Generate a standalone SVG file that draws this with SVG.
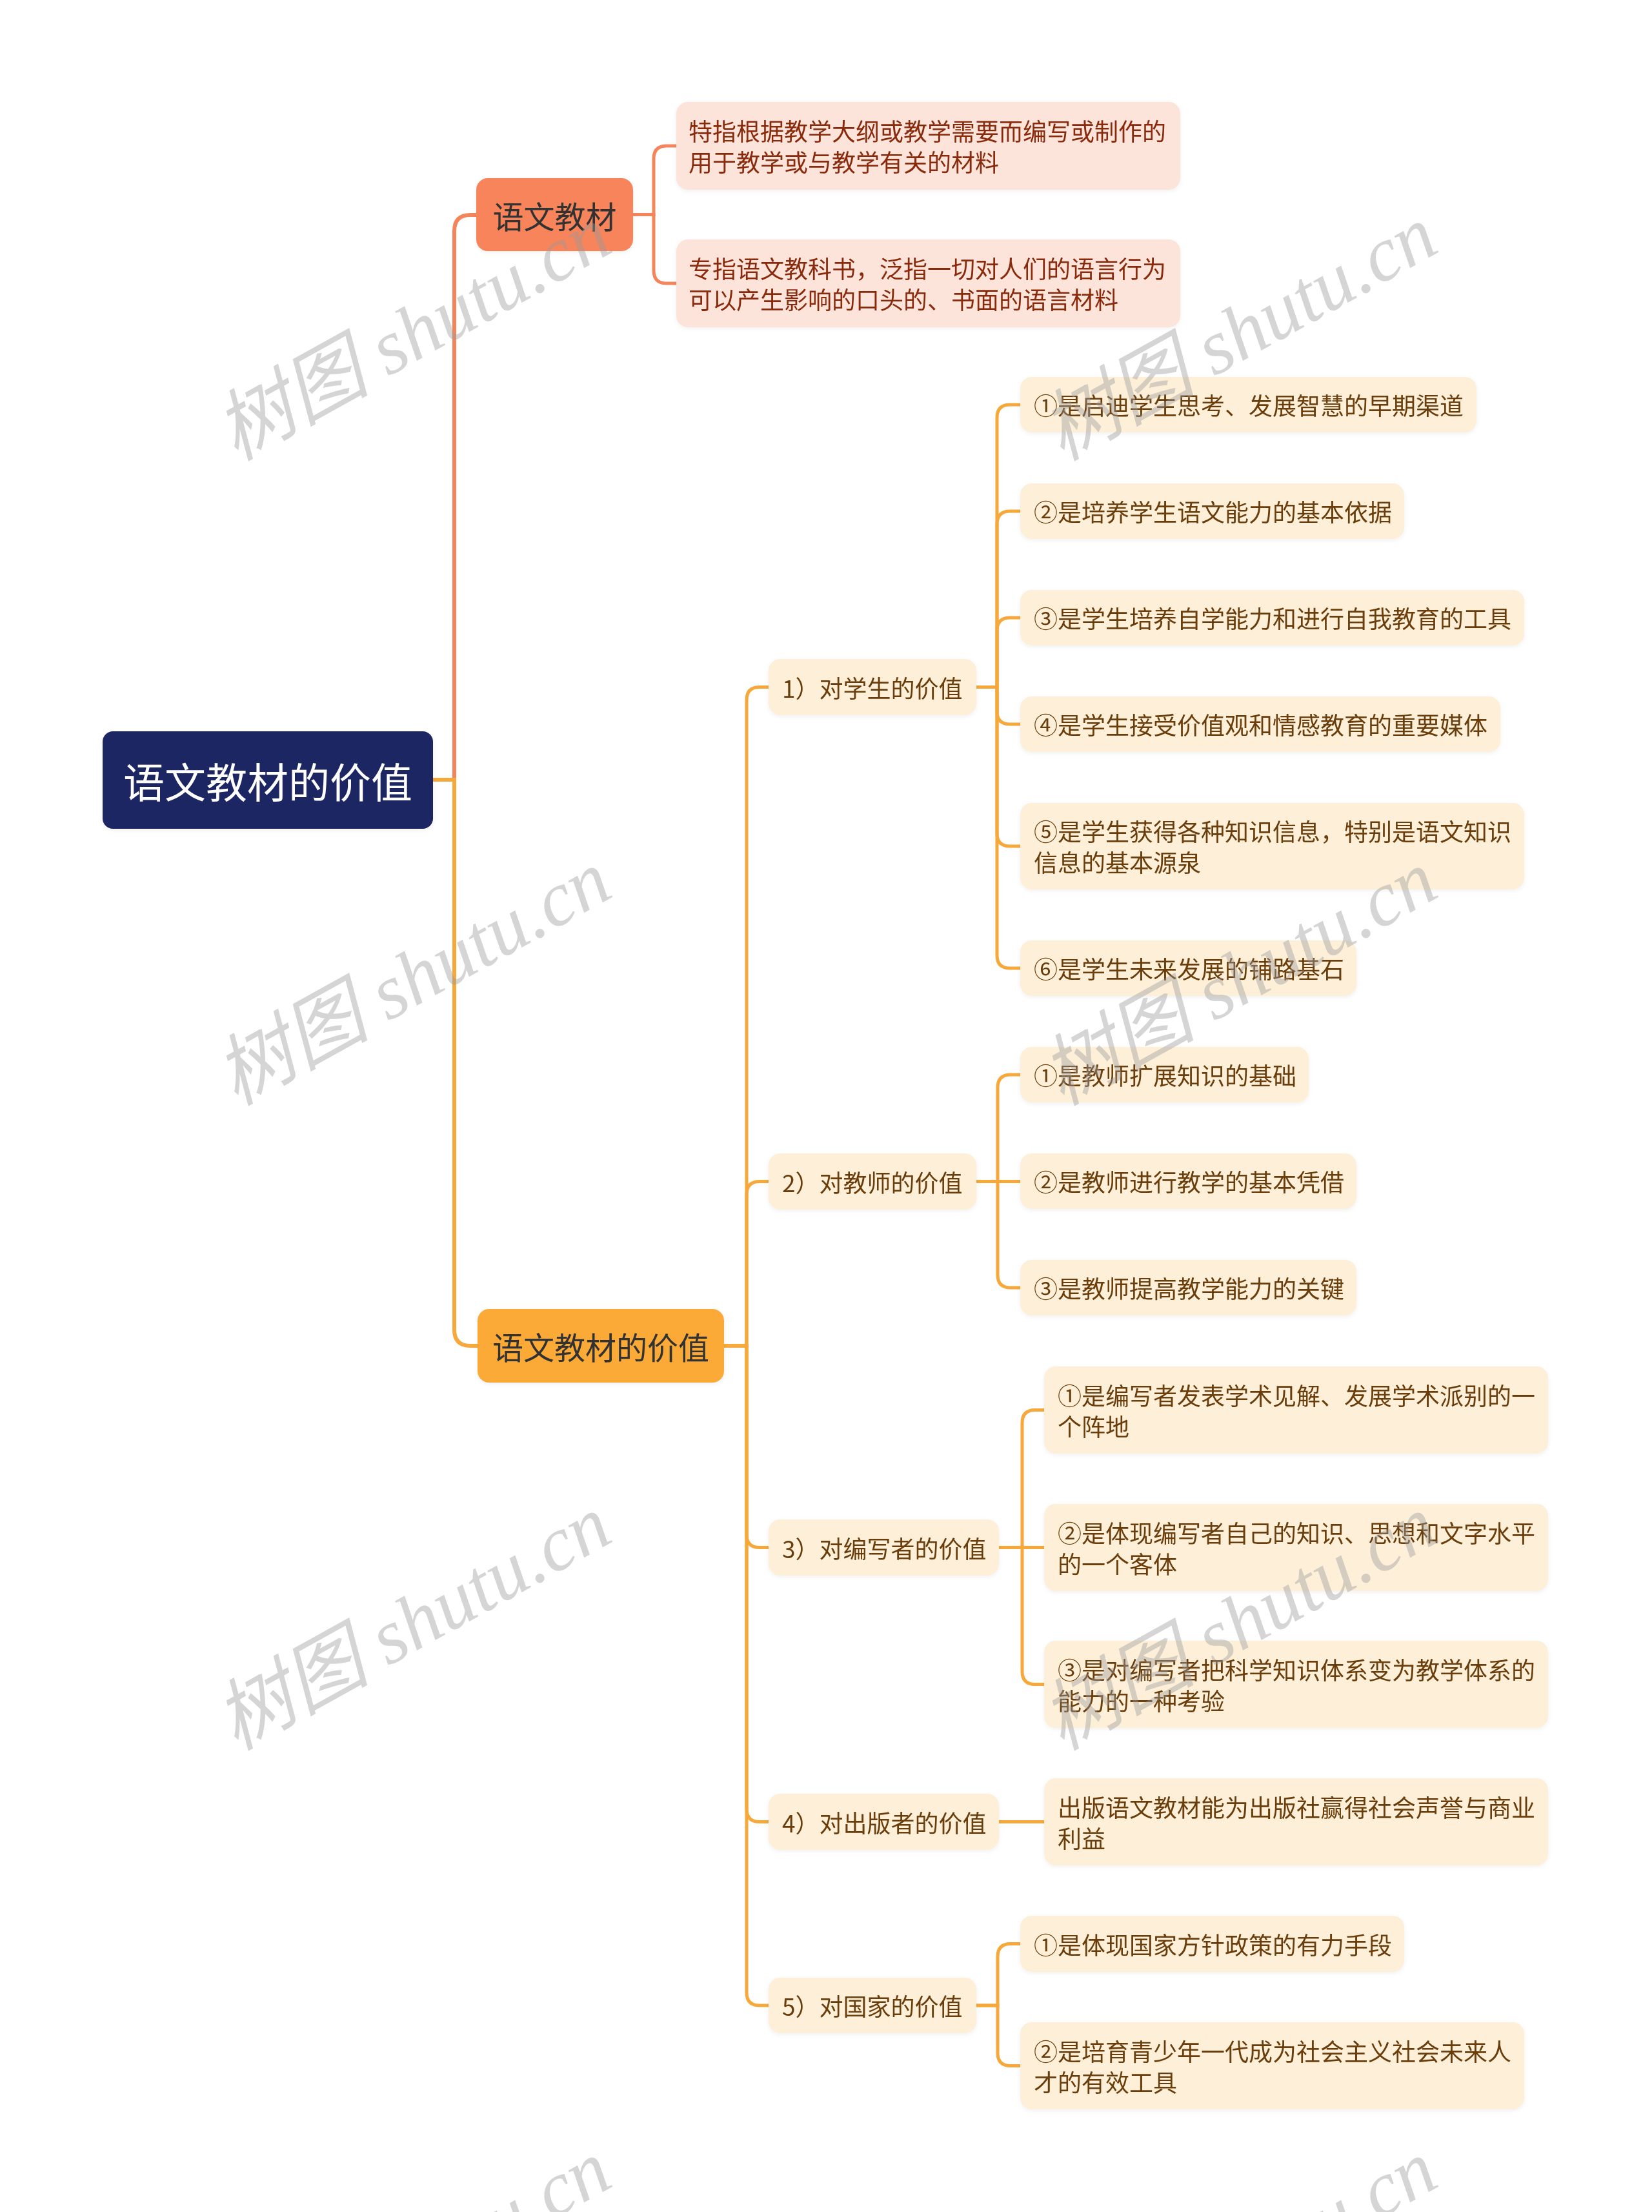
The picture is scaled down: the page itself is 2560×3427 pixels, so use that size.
<svg xmlns="http://www.w3.org/2000/svg" width="2560" height="3427" viewBox="0 0 2560 3427">
<defs>
<filter id="sh" x="-5%" y="-10%" width="110%" height="130%">
<feDropShadow dx="0" dy="2" stdDeviation="3" flood-color="#000" flood-opacity="0.06"/>
</filter>
<style>
text{font-family:"Noto Sans CJK SC","Noto Sans",sans-serif;dominant-baseline:central}
.root rect{fill:#1f2562}
.root text{fill:#ffffff;font-size:64px;text-anchor:middle}
.l1c rect{fill:#f7845a}
.l1o rect{fill:#fbaa38}
.l1c text,.l1o text{fill:#333333;font-size:48px;text-anchor:middle}
.pk rect{fill:#fde4da}
.pk text{fill:#8a2b0e;font-size:37px}
.cr rect{fill:#fdefd8}
.cr text{fill:#6b3d0a;font-size:37px}
.cc{fill:none;stroke:#f6845a;stroke-linecap:round}
.co{fill:none;stroke:#f6a83a;stroke-linecap:round}
.wm{font-family:"Liberation Serif","Noto Sans CJK SC",serif;font-style:italic;font-size:120px;fill:#9a9a9a;fill-opacity:0.42;text-anchor:middle}
</style>
</defs>
<rect width="2560" height="3427" fill="#ffffff"/>

<g id="connectors">
<path class="cc" stroke-width="6" d="M704 1208 V358 Q704 333 729 333 H740"/>
<path class="co" stroke-width="6" d="M671 1208 H704 V2060 Q704 2085 729 2085 H742"/>
<path class="cc" stroke-width="5" d="M981 332.5 H1013 V246 Q1013 226 1033 226 H1050"/>
<path class="cc" stroke-width="5" d="M981 332.5 H1013 V419 Q1013 439 1033 439 H1050"/>

<path class="co" stroke-width="5" d="M1122 2085 H1157 V1084.5 Q1157 1064.5 1177 1064.5 H1193"/>
<path class="co" stroke-width="5" d="M1122 2085 H1157 V1850.5 Q1157 1830.5 1177 1830.5 H1193"/>
<path class="co" stroke-width="5" d="M1122 2085 H1157 V2377.5 Q1157 2397.5 1177 2397.5 H1193"/>
<path class="co" stroke-width="5" d="M1122 2085 H1157 V2802.5 Q1157 2822.5 1177 2822.5 H1193"/>
<path class="co" stroke-width="5" d="M1122 2085 H1157 V3087 Q1157 3107 1177 3107 H1193"/>

<path class="co" stroke-width="5" d="M1513 1064.5 H1545 V647 Q1545 627 1565 627 H1583"/>
<path class="co" stroke-width="5" d="M1513 1064.5 H1545 V812 Q1545 792 1565 792 H1583"/>
<path class="co" stroke-width="5" d="M1513 1064.5 H1545 V977 Q1545 957 1565 957 H1583"/>
<path class="co" stroke-width="5" d="M1513 1064.5 H1545 V1102 Q1545 1122 1565 1122 H1583"/>
<path class="co" stroke-width="5" d="M1513 1064.5 H1545 V1291 Q1545 1311 1565 1311 H1583"/>
<path class="co" stroke-width="5" d="M1513 1064.5 H1545 V1480 Q1545 1500 1565 1500 H1583"/>

<path class="co" stroke-width="5" d="M1513 1830.5 H1546 V1685 Q1546 1665 1566 1665 H1583"/>
<path class="co" stroke-width="5" d="M1513 1830.5 H1583"/>
<path class="co" stroke-width="5" d="M1513 1830.5 H1546 V1975 Q1546 1995 1566 1995 H1583"/>

<path class="co" stroke-width="5" d="M1548 2397.5 H1584 V2204.5 Q1584 2184.5 1604 2184.5 H1620"/>
<path class="co" stroke-width="5" d="M1548 2397.5 H1620"/>
<path class="co" stroke-width="5" d="M1548 2397.5 H1584 V2589.5 Q1584 2609.5 1604 2609.5 H1620"/>

<path class="co" stroke-width="5" d="M1548 2822.5 H1620"/>

<path class="co" stroke-width="5" d="M1513 3107 H1546 V3031.5 Q1546 3011.5 1566 3011.5 H1583"/>
<path class="co" stroke-width="5" d="M1513 3107 H1546 V3180.5 Q1546 3200.5 1566 3200.5 H1583"/>
</g>

<g id="root" class="root" filter="url(#sh)">
<rect x="159" y="1133" width="512" height="151" rx="16"/>
<text x="415" y="1208">语文教材的价值</text>
</g>

<g id="n-yuwenjiaocai" class="l1c" filter="url(#sh)">
<rect x="738" y="276" width="243" height="113" rx="18"/>
<text x="859.5" y="332.5">语文教材</text>
</g>
<g id="n-pink1" class="pk" filter="url(#sh)">
<rect x="1048" y="158" width="781" height="136" rx="18"/>
<text x="1067" y="202">特指根据教学大纲或教学需要而编写或制作的</text>
<text x="1067" y="250">用于教学或与教学有关的材料</text>
</g>
<g id="n-pink2" class="pk" filter="url(#sh)">
<rect x="1048" y="371" width="781" height="136" rx="18"/>
<text x="1067" y="415">专指语文教科书，泛指一切对人们的语言行为</text>
<text x="1067" y="463">可以产生影响的口头的、书面的语言材料</text>
</g>

<g id="n-value" class="l1o" filter="url(#sh)">
<rect x="740" y="2028" width="382" height="114" rx="18"/>
<text x="931" y="2085">语文教材的价值</text>
</g>

<g id="n-student" class="cr" filter="url(#sh)">
<rect x="1191" y="1021" width="322" height="87" rx="18"/>
<text x="1212" y="1064.5">1）对学生的价值</text>
</g>
<g id="n-s1" class="cr" filter="url(#sh)">
<rect x="1581" y="584" width="707" height="86" rx="18"/>
<text x="1602" y="627">①是启迪学生思考、发展智慧的早期渠道</text>
</g>
<g id="n-s2" class="cr" filter="url(#sh)">
<rect x="1581" y="749" width="595" height="86" rx="18"/>
<text x="1602" y="792">②是培养学生语文能力的基本依据</text>
</g>
<g id="n-s3" class="cr" filter="url(#sh)">
<rect x="1581" y="914" width="781" height="86" rx="18"/>
<text x="1602" y="957">③是学生培养自学能力和进行自我教育的工具</text>
</g>
<g id="n-s4" class="cr" filter="url(#sh)">
<rect x="1581" y="1079" width="744" height="86" rx="18"/>
<text x="1602" y="1122">④是学生接受价值观和情感教育的重要媒体</text>
</g>
<g id="n-s5" class="cr" filter="url(#sh)">
<rect x="1581" y="1244" width="781" height="134" rx="18"/>
<text x="1602" y="1287">⑤是学生获得各种知识信息，特别是语文知识</text>
<text x="1602" y="1335">信息的基本源泉</text>
</g>
<g id="n-s6" class="cr" filter="url(#sh)">
<rect x="1581" y="1457" width="521" height="86" rx="18"/>
<text x="1602" y="1500">⑥是学生未来发展的铺路基石</text>
</g>

<g id="n-teacher" class="cr" filter="url(#sh)">
<rect x="1191" y="1787" width="322" height="87" rx="18"/>
<text x="1212" y="1830.5">2）对教师的价值</text>
</g>
<g id="n-t1" class="cr" filter="url(#sh)">
<rect x="1581" y="1622" width="447" height="86" rx="18"/>
<text x="1602" y="1665">①是教师扩展知识的基础</text>
</g>
<g id="n-t2" class="cr" filter="url(#sh)">
<rect x="1581" y="1787" width="521" height="86" rx="18"/>
<text x="1602" y="1830">②是教师进行教学的基本凭借</text>
</g>
<g id="n-t3" class="cr" filter="url(#sh)">
<rect x="1581" y="1952" width="521" height="86" rx="18"/>
<text x="1602" y="1995">③是教师提高教学能力的关键</text>
</g>

<g id="n-writer" class="cr" filter="url(#sh)">
<rect x="1191" y="2354" width="357" height="87" rx="18"/>
<text x="1212" y="2397.5">3）对编写者的价值</text>
</g>
<g id="n-w1" class="cr" filter="url(#sh)">
<rect x="1618" y="2117" width="781" height="135" rx="18"/>
<text x="1639" y="2160.5">①是编写者发表学术见解、发展学术派别的一</text>
<text x="1639" y="2208.5">个阵地</text>
</g>
<g id="n-w2" class="cr" filter="url(#sh)">
<rect x="1618" y="2330" width="781" height="135" rx="18"/>
<text x="1639" y="2373.5">②是体现编写者自己的知识、思想和文字水平</text>
<text x="1639" y="2421.5">的一个客体</text>
</g>
<g id="n-w3" class="cr" filter="url(#sh)">
<rect x="1618" y="2542" width="781" height="135" rx="18"/>
<text x="1639" y="2585.5">③是对编写者把科学知识体系变为教学体系的</text>
<text x="1639" y="2633.5">能力的一种考验</text>
</g>

<g id="n-publisher" class="cr" filter="url(#sh)">
<rect x="1191" y="2779" width="357" height="87" rx="18"/>
<text x="1212" y="2822.5">4）对出版者的价值</text>
</g>
<g id="n-p1" class="cr" filter="url(#sh)">
<rect x="1618" y="2755" width="781" height="135" rx="18"/>
<text x="1639" y="2798.5">出版语文教材能为出版社赢得社会声誉与商业</text>
<text x="1639" y="2846.5">利益</text>
</g>

<g id="n-nation" class="cr" filter="url(#sh)">
<rect x="1191" y="3064" width="322" height="86" rx="18"/>
<text x="1212" y="3107">5）对国家的价值</text>
</g>
<g id="n-c1" class="cr" filter="url(#sh)">
<rect x="1581" y="2968" width="595" height="87" rx="18"/>
<text x="1602" y="3011.5">①是体现国家方针政策的有力手段</text>
</g>
<g id="n-c2" class="cr" filter="url(#sh)">
<rect x="1581" y="3133" width="781" height="135" rx="18"/>
<text x="1602" y="3176.5">②是培育青少年一代成为社会主义社会未来人</text>
<text x="1602" y="3224.5">才的有效工具</text>
</g>

<g id="watermarks">
<text class="wm" x="640" y="516" transform="rotate(-29 640 516)">树图 shutu.cn</text>
<text class="wm" x="1920" y="516" transform="rotate(-29 1920 516)">树图 shutu.cn</text>
<text class="wm" x="640" y="1515" transform="rotate(-29 640 1515)">树图 shutu.cn</text>
<text class="wm" x="1920" y="1515" transform="rotate(-29 1920 1515)">树图 shutu.cn</text>
<text class="wm" x="640" y="2514" transform="rotate(-29 640 2514)">树图 shutu.cn</text>
<text class="wm" x="1920" y="2514" transform="rotate(-29 1920 2514)">树图 shutu.cn</text>
<text class="wm" x="640" y="3513" transform="rotate(-29 640 3513)">树图 shutu.cn</text>
<text class="wm" x="1920" y="3513" transform="rotate(-29 1920 3513)">树图 shutu.cn</text>
</g>
</svg>
